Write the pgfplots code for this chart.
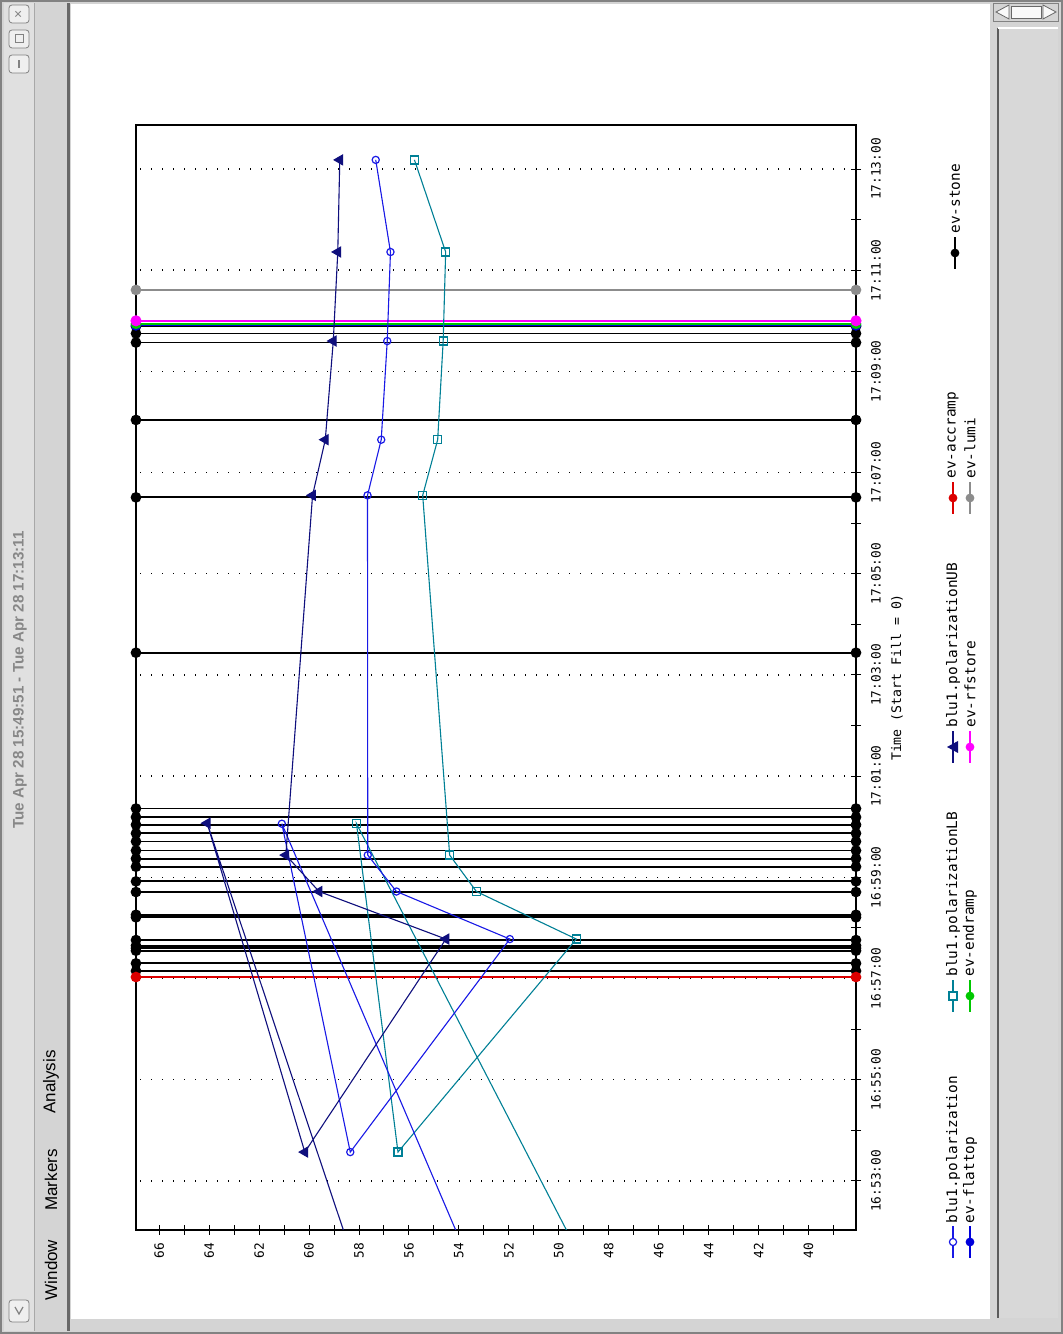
\documentclass[border=0pt]{standalone}
\usepackage{pgfplots}
\pgfplotsset{compat=1.18}
\usepackage{fontspec}
\setmainfont{Liberation Sans}
\newfontfamily\monofont{DejaVu Sans Mono}
\definecolor{polblue}{RGB}{25,25,230}
\definecolor{polnavy}{RGB}{15,15,125}
\definecolor{polteal}{RGB}{0,128,150}
\definecolor{evgreen}{RGB}{0,200,0}
\definecolor{evmag}{RGB}{255,0,255}
\definecolor{evgray}{RGB}{140,140,140}
\definecolor{evred}{RGB}{220,0,0}
\definecolor{evblue}{RGB}{0,0,220}
\definecolor{winbg}{RGB}{212,212,212}
\definecolor{titlebg}{RGB}{224,224,224}
\definecolor{titletext}{RGB}{135,135,135}
\definecolor{edge}{RGB}{130,130,130}
\begin{document}
\begin{tikzpicture}[x=0.5pt,y=0.5pt]
% ---------- window frame ----------
\fill[winbg] (0,0) rectangle (1063,1334);
\draw[edge, line width=1pt] (1,1) rectangle (1062,1333);
\fill[titlebg] (4,3) rectangle (34,1331);
\draw[edge!70, line width=0.5pt] (34,3) -- (34,1331);
\node[rotate=90, text=titletext, font=\bfseries\fontsize{7.6}{9}\selectfont, inner sep=0] at (20,654) {Tue Apr 28 15:49:51 - Tue Apr 28 17:13:11};
% title buttons
\draw[edge, rounded corners=1.5pt, fill=titlebg!50!white] (9,1311) rectangle (29,1329);
\node[rotate=90, text=edge, font=\fontsize{7}{7}\selectfont, inner sep=0] at (19,1320) {×};
\draw[edge, rounded corners=1.5pt, fill=titlebg!50!white] (9,1286) rectangle (29,1304);
\draw[edge, line width=0.5pt] (15,1291) rectangle (23,1299);
\draw[edge, rounded corners=1.5pt, fill=titlebg!50!white] (9,1261) rectangle (29,1279);
\draw[edge, line width=1pt] (19,1266) -- (19,1274);
\draw[edge, rounded corners=1.5pt, fill=titlebg!50!white] (9,12) rectangle (29,34);
\draw[edge, line width=0.6pt] (15,27) -- (19,20) -- (23,27);
% menu bar
\fill[winbg] (35,3) rectangle (67,1331);
\fill[edge!80!black] (67,3) rectangle (70,1331);
\node[rotate=90, font=\fontsize{8.5}{9}\selectfont, inner sep=0] at (51,64) {Window};
\node[rotate=90, font=\fontsize{8.5}{9}\selectfont, inner sep=0] at (51,154) {Markers};
\node[rotate=90, font=\fontsize{8.5}{9}\selectfont, inner sep=0] at (51,252) {Analysis};
% canvas
\fill[white] (71,15) rectangle (990,1330);
% right widgets
\draw[edge, fill=winbg] (993,1313) rectangle (1058,1331);
\draw[edge!80!black, fill=white!85!winbg] (1009,1329) -- (996,1322) -- (1009,1315) -- cycle;
\draw[edge!80!black, fill=white!85!winbg] (1011,1316) rectangle (1041,1328);
\draw[edge!80!black, fill=white!85!winbg] (1043,1329) -- (1056,1322) -- (1043,1315) -- cycle;
\fill[winbg!90!white] (997,16) rectangle (1058,1306);
\draw[edge!70!black, line width=1.2pt] (998,16) -- (998,1306);
\draw[white, line width=0.8pt] (998,1306) -- (1058,1306);
% ---------- chart ----------
\begin{axis}[
  at={(68pt,52pt)}, anchor=south west,
  scale only axis, width=360pt, height=552.5pt,
  x dir=reverse,
  xmin=38.1, xmax=66.93, ymin=52.03, ymax=73.87,
  axis line style={black, line width=0.6pt},
  xtick={40,42,44,46,48,50,52,54,56,58,60,62,64,66},
  xticklabels={40,42,44,46,48,50,52,54,56,58,60,62,64,66},
  minor xtick={39,41,43,45,47,49,51,53,55,57,59,61,63,65},
  ytick={53,55,57,59,61,63,65,67,69,71,73},
  yticklabels={16:53:00,16:55:00,16:57:00,16:59:00,17:01:00,17:03:00,17:05:00,17:07:00,17:09:00,17:11:00,17:13:00},
  minor ytick={54,56,58,60,62,64,66,68,70,72},
  xtick pos=bottom, ytick pos=right, yticklabel pos=right,
  tick align=center,
  major tick length=5pt, minor tick length=5pt,
  tick style={black, line width=0.5pt},
  ymajorgrids,
  major grid style={black, line width=0.7pt, dash pattern=on 0.7pt off 4.8pt},
  xticklabel style={rotate=90, anchor=east, font=\monofont\fontsize{6.4}{6.4}\selectfont, inner sep=0pt, outer sep=4pt},
  yticklabel style={rotate=90, anchor=north, font=\monofont\fontsize{6.4}{6.4}\selectfont, inner sep=0pt, outer sep=5pt},
  every axis y label/.style={at={(axis description cs:1.057,0.5)}, rotate=90, anchor=center, font=\monofont\fontsize{6.6}{6.6}\selectfont},
  ylabel={Time (Start Fill = 0)},
  /pgf/number format/assume math mode=true,
  unbounded coords=jump,
]
% ev-stone
\addplot[black, line width=0.9pt, mark=*, mark size=2.2pt] coordinates {
(38.1,57.15) (66.93,57.15) (nan,nan)
(38.1,57.30) (66.93,57.30) (nan,nan)
(38.1,57.55) (66.93,57.55) (nan,nan)
(38.1,57.60) (66.93,57.60) (nan,nan)
(38.1,57.65) (66.93,57.65) (nan,nan)
(38.1,57.76) (66.93,57.76) (nan,nan)
(38.1,58.21) (66.93,58.21) (nan,nan)
(38.1,58.26) (66.93,58.26) (nan,nan)
(38.1,58.71) (66.93,58.71) (nan,nan)
(38.1,58.92) (66.93,58.92) (nan,nan)
(38.1,59.21) (66.93,59.21) (nan,nan)
(38.1,59.37) (66.93,59.37) (nan,nan)
(38.1,59.53) (66.93,59.53) (nan,nan)
(38.1,59.71) (66.93,59.71) (nan,nan)
(38.1,59.87) (66.93,59.87) (nan,nan)
(38.1,60.04) (66.93,60.04) (nan,nan)
(38.1,60.19) (66.93,60.19) (nan,nan)
(38.1,60.36) (66.93,60.36) (nan,nan)
(38.1,63.44) (66.93,63.44) (nan,nan)
(38.1,66.51) (66.93,66.51) (nan,nan)
(38.1,68.04) (66.93,68.04) (nan,nan)
(38.1,69.57) (66.93,69.57) (nan,nan)
(38.1,69.75) (66.93,69.75) (nan,nan)
(38.1,69.89) (66.93,69.89)
};
% ev-flattop
\addplot[evblue, line width=0.9pt, mark=*, mark size=2.2pt] coordinates {(38.1,69.91) (66.93,69.91)};
% ev-endramp
\addplot[evgreen, line width=0.9pt, mark=*, mark size=2.2pt] coordinates {(38.1,69.94) (66.93,69.94)};
% ev-rfstore
\addplot[evmag, line width=1.1pt, mark=*, mark size=2.2pt] coordinates {(38.1,70.00) (66.93,70.00)};
% ev-lumi
\addplot[evgray, line width=0.9pt, mark=*, mark size=2.2pt] coordinates {(38.1,70.61) (66.93,70.61)};
% ev-accramp
\addplot[evred, line width=0.9pt, mark=*, mark size=2.2pt] coordinates {(38.1,57.03) (66.93,57.03)};
% blu1.polarizationLB
\addplot[polteal, line width=0.55pt, mark=square, mark size=2pt, mark options={solid, line width=0.6pt}, mark indices={1,2,3,4,5,6,7,8,9,10}] coordinates {
(47.57,50.00) (58.10,60.06) (56.44,53.57) (49.30,57.78) (53.30,58.72) (54.37,59.44)
(55.45,66.55) (54.85,67.65) (54.63,69.60) (54.53,71.36) (55.78,73.18)};
% blu1.polarization
\addplot[polblue, line width=0.55pt, mark=o, mark size=1.8pt, mark options={solid, line width=0.6pt}, mark indices={1,2,3,4,5,6,7,8,9,10}] coordinates {
(52.37,50.00) (61.09,60.06) (58.35,53.57) (51.96,57.78) (56.50,58.72) (57.65,59.44)
(57.66,66.55) (57.11,67.65) (56.87,69.60) (56.74,71.36) (57.33,73.18)};
% blu1.polarizationUB
\addplot[polnavy, line width=0.55pt, mark=triangle*, mark size=2.8pt, mark options={solid, rotate=90}, mark indices={1,2,3,4,5,6,7,8,9,10}] coordinates {
(57.25,50.00) (64.08,60.07) (60.17,53.57) (54.52,57.78) (59.60,58.72) (60.93,59.44)
(59.86,66.55) (59.35,67.65) (59.03,69.60) (58.85,71.36) (58.77,73.18)};
\end{axis}
% ---------- legend ----------
\begin{scope}[font=\monofont\fontsize{7.2}{7.2}\selectfont]
% group 1
\draw[polblue, line width=0.55pt] (953,76) -- (953,108);
\draw[polblue, line width=0.6pt, fill=white] (953,92) circle (1.8pt);
\node[rotate=90, anchor=west, inner sep=0] at (953,110) {blu1.polarization};
\draw[evblue, line width=0.55pt] (970,76) -- (970,108);
\fill[evblue] (970,92) circle (2.2pt);
\node[rotate=90, anchor=west, inner sep=0] at (970,110) {ev-flattop};
% group 2
\draw[polteal, line width=0.55pt] (953,322) -- (953,354);
\draw[polteal, line width=0.6pt, fill=white] (949,334) rectangle (957,342);
\node[rotate=90, anchor=west, inner sep=0] at (953,357) {blu1.polarizationLB};
\draw[evgreen, line width=0.55pt] (970,322) -- (970,354);
\fill[evgreen] (970,338) circle (2.2pt);
\node[rotate=90, anchor=west, inner sep=0] at (970,357) {ev-endramp};
% group 3
\draw[polnavy, line width=0.55pt] (953,571) -- (953,603);
\fill[polnavy] (947,587) -- (958,581) -- (958,593) -- cycle;
\node[rotate=90, anchor=west, inner sep=0] at (953,606) {blu1.polarizationUB};
\draw[evmag, line width=0.55pt] (970,571) -- (970,603);
\fill[evmag] (970,587) circle (2.2pt);
\node[rotate=90, anchor=west, inner sep=0] at (970,606) {ev-rfstore};
% group 4
\draw[evred, line width=0.55pt] (953,820) -- (953,852);
\fill[evred] (953,836) circle (2.2pt);
\node[rotate=90, anchor=west, inner sep=0] at (953,855) {ev-accramp};
\draw[evgray, line width=0.55pt] (970,820) -- (970,852);
\fill[evgray] (970,836) circle (2.2pt);
\node[rotate=90, anchor=west, inner sep=0] at (970,855) {ev-lumi};
% group 5
\draw[black, line width=0.55pt] (955,1065) -- (955,1097);
\fill[black] (955,1081) circle (2.2pt);
\node[rotate=90, anchor=west, inner sep=0] at (955,1100) {ev-stone};
\end{scope}
\pgfresetboundingbox
\path (0,0) rectangle (1063,1334);
\end{tikzpicture}
\end{document}
